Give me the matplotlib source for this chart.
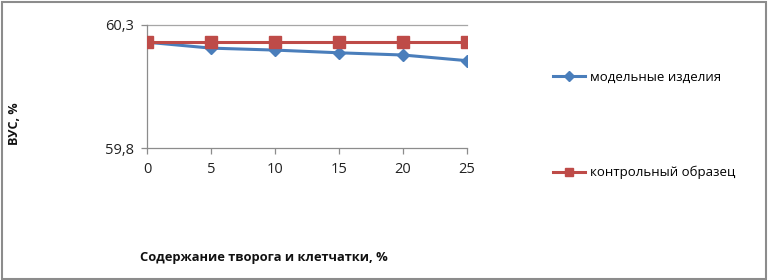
import matplotlib
matplotlib.use('Agg')
import matplotlib.pyplot as plt
from matplotlib.patches import Rectangle

content = [0, 5, 10, 15, 20, 25]
model = [60.23, 60.206, 60.198, 60.187, 60.178, 60.155]
control = [60.23, 60.23, 60.23, 60.23, 60.23, 60.23]
y_ticks = [59.8, 60.3]
y_labels = ['59,8', '60,3']

plt.rcParams['font.family'] = ['Open Sans', 'DejaVu Sans']

fig = plt.figure(figsize=(7.68, 2.8), dpi=100)
fig.patches.append(Rectangle((0.002, 0.004), 0.996, 0.99, transform=fig.transFigure,
                             fill=False, edgecolor='#8c8c8c', linewidth=1.5))

ax = fig.add_axes([147 / 768, 1 - 148 / 280, 320 / 768, 123 / 280])
ax.plot(content, model, color='#4A7EBB', linewidth=2.2, marker='D', markersize=6.5,
        label='модельные изделия', zorder=3)
ax.plot(content, control, color='#BE4B48', linewidth=2.2, marker='s', markersize=8.5,
        label='контрольный образец', zorder=4)

ax.set_xlim(0, 25)
ax.set_ylim(59.8, 60.3)
ax.set_xticks(content)
ax.set_yticks(y_ticks)
ax.set_yticklabels(y_labels)
ax.axhline(60.3, color='#a6a6a6', linewidth=0.9, clip_on=False)

for s in ['top', 'right']:
    ax.spines[s].set_visible(False)
for s in ['left', 'bottom']:
    ax.spines[s].set_color('#8c8c8c')
    ax.spines[s].set_linewidth(0.9)
ax.tick_params(axis='both', colors='#8c8c8c', labelcolor='#222222', labelsize=10.5,
               length=4, width=0.9, direction='out')
ax.tick_params(axis='x', pad=6)
ax.tick_params(axis='y', pad=5)

fig.text(15 / 768, 1 - 124 / 280, 'ВУС, %', rotation=90, ha='center', va='center',
         fontsize=9, fontweight='bold', color='#111111')
fig.text(140 / 768, 1 - 258 / 280, 'Содержание творога и клетчатки, %', ha='left', va='center',
         fontsize=9.3, fontweight='bold', color='#111111')

fig.legend(loc='upper left', bbox_to_anchor=(553 / 768, 1 - 71 / 280), frameon=False,
           fontsize=9.5, labelspacing=6.2, handlelength=2.4, handletextpad=0.4,
           markerscale=0.75, borderpad=0, borderaxespad=0)

fig.savefig('out.png', dpi=100)
